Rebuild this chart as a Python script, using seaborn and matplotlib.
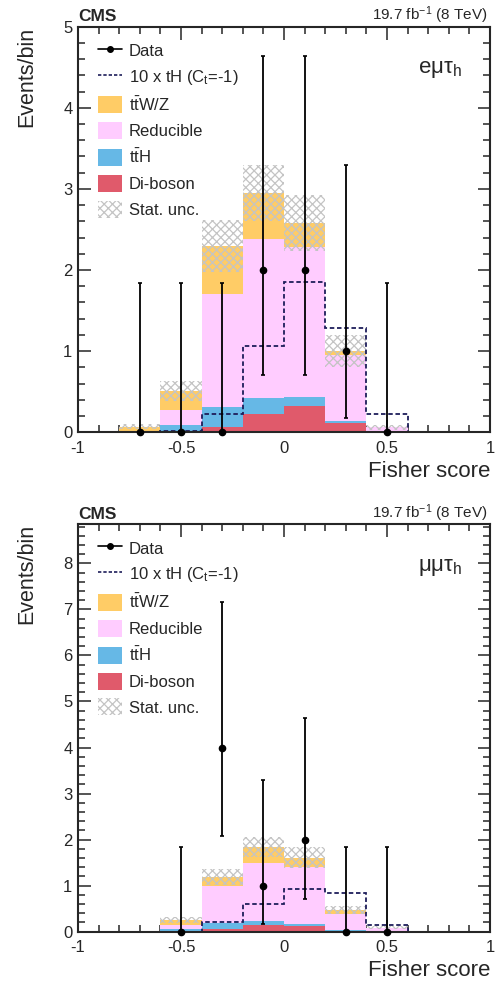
import numpy as np
import pandas as pd
import matplotlib
import matplotlib.pyplot as plt
import seaborn as sns
from matplotlib.lines import Line2D
from matplotlib.patches import Patch
from matplotlib.ticker import MultipleLocator, FormatStrFormatter

matplotlib.use('agg')

# binning of the Fisher discriminant
bin_edges = [-1.0, -0.8, -0.6, -0.4, -0.2, 0.0, 0.2, 0.4, 0.6, 0.8, 1.0]
bin_centers = [-0.9, -0.7, -0.5, -0.3, -0.1, 0.1, 0.3, 0.5, 0.7, 0.9]

processes = ['ttWZ', 'Reducible', 'ttH', 'Diboson']
proc_colors = ['#FFCC66', '#FFCCFF', '#66B8E6', '#E05A6B']

# e mu tau_h channel
emt_ttwz = [0.0, 0.07, 0.23, 0.60, 0.57, 0.29, 0.05, 0.0, 0.0, 0.0]
emt_reducible = [0.0, 0.0, 0.19, 1.39, 1.96, 1.86, 0.815, 0.06, 0.0, 0.0]
emt_tth = [0.0, 0.0, 0.09, 0.25, 0.19, 0.11, 0.015, 0.0, 0.0, 0.0]
emt_diboson = [0.0, 0.0, 0.0, 0.06, 0.23, 0.32, 0.12, 0.0, 0.0, 0.0]
emt_stat = [0.0, 0.03, 0.12, 0.32, 0.35, 0.35, 0.20, 0.03, 0.0, 0.0]
emt_th10 = [0.0, 0.0, 0.02, 0.22, 1.06, 1.85, 1.29, 0.22, 0.0, 0.0]
emt_data_x = [-0.7, -0.5, -0.3, -0.1, 0.1, 0.3, 0.5]
emt_data_y = [0, 0, 0, 2, 2, 1, 0]
emt_data_lo = [0.0, 0.0, 0.0, 1.29, 1.29, 0.83, 0.0]
emt_data_hi = [1.84, 1.84, 1.84, 2.64, 2.64, 2.30, 1.84]

# mu mu tau_h channel
mmt_ttwz = [0.0, 0.0, 0.105, 0.19, 0.35, 0.20, 0.095, 0.0, 0.0, 0.0]
mmt_reducible = [0.0, 0.0, 0.08, 0.82, 1.25, 1.24, 0.34, 0.085, 0.0, 0.0]
mmt_tth = [0.0, 0.0, 0.065, 0.12, 0.095, 0.05, 0.035, 0.0, 0.0, 0.0]
mmt_diboson = [0.0, 0.0, 0.0, 0.06, 0.145, 0.12, 0.0, 0.0, 0.0, 0.0]
mmt_stat = [0.0, 0.0, 0.06, 0.18, 0.22, 0.22, 0.08, 0.03, 0.0, 0.0]
mmt_th10 = [0.0, 0.0, 0.0, 0.20, 0.61, 0.93, 0.83, 0.14, 0.0, 0.0]
mmt_data_x = [-0.5, -0.3, -0.1, 0.1, 0.3, 0.5]
mmt_data_y = [0, 4, 1, 2, 0, 0]
mmt_data_lo = [0.0, 1.92, 0.83, 1.29, 0.0, 0.0]
mmt_data_hi = [1.84, 3.16, 2.30, 2.64, 1.84, 1.84]

sns.set_style('ticks')
plt.rcParams['font.family'] = ['Liberation Sans', 'DejaVu Sans']
plt.rcParams['mathtext.fontset'] = 'custom'
plt.rcParams['mathtext.rm'] = 'Liberation Sans'
plt.rcParams['mathtext.it'] = 'Liberation Sans:italic'
plt.rcParams['mathtext.bf'] = 'Liberation Sans:bold'
plt.rcParams['axes.unicode_minus'] = False
plt.rcParams['hatch.linewidth'] = 0.9

TH_COLOR = '#1E1E5A'
UNC_COLOR = '#C4C4C4'
HATCH = 'xxxx'


def draw_panel(ax, ttwz, reducible, tth, diboson, stat, th10,
               dx, dy, dlo, dhi, channel, ymax, leg_top):
    df = pd.DataFrame({
        'score': bin_centers * 4,
        'weight': list(ttwz) + list(reducible) + list(tth) + list(diboson),
        'process': sum([[p] * len(bin_centers) for p in processes], []),
    })
    # first hue level ends up on top of the stack
    sns.histplot(data=df, x='score', weights='weight', hue='process',
                 hue_order=processes, palette=proc_colors, multiple='stack',
                 bins=bin_edges, element='bars', alpha=1, linewidth=0,
                 legend=False, ax=ax)

    total = np.array(ttwz) + np.array(reducible) + np.array(tth) + np.array(diboson)
    stat = np.array(stat)
    ax.bar(bin_centers, 2 * stat, bottom=total - stat, width=0.2,
           facecolor='none', edgecolor=UNC_COLOR, hatch=HATCH, linewidth=0)

    ax.stairs(th10, bin_edges, color=TH_COLOR, linewidth=1.3,
              linestyle=(0, (2.5, 1.5)), baseline=0)

    ax.errorbar(dx, dy, yerr=[dlo, dhi], fmt='o', color='black', ms=4.5,
                elinewidth=1.3, capsize=1.5, capthick=1.2, clip_on=False,
                zorder=10)

    ax.set_xlim(-1, 1)
    ax.set_ylim(0, ymax)
    ax.xaxis.set_major_locator(MultipleLocator(0.5))
    ax.xaxis.set_minor_locator(MultipleLocator(0.1))
    ax.yaxis.set_major_locator(MultipleLocator(1))
    ax.yaxis.set_minor_locator(MultipleLocator(0.2))
    ax.xaxis.set_major_formatter(FormatStrFormatter('%g'))
    ax.yaxis.set_major_formatter(FormatStrFormatter('%g'))
    ax.tick_params(which='both', direction='in', top=True, right=True,
                   labelsize=12, width=1.1)
    ax.tick_params(which='major', length=9)
    ax.tick_params(which='minor', length=5)
    ax.tick_params(axis='x', which='major', pad=6)
    ax.tick_params(axis='y', which='major', pad=4)
    for s in ax.spines.values():
        s.set_linewidth(1.5)
        s.set_visible(True)

    ax.set_xlabel('Fisher score', fontsize=16, loc='right')
    ax.xaxis.set_label_coords(1.0, -0.07)
    ax.set_ylabel('Events/bin', fontsize=15.5, loc='top')
    ax.yaxis.set_label_coords(-0.1, 1.0)

    ax.text(0.0, 1.014, 'CMS', transform=ax.transAxes, fontsize=12.5,
            fontweight='bold', va='baseline', ha='left')
    ax.text(0.995, 1.016, r'19.7 fb$^{-1}$ (8 TeV)', transform=ax.transAxes,
            fontsize=11, va='baseline', ha='right')
    ax.text(0.932, 0.885, channel, transform=ax.transAxes, fontsize=16,
            va='baseline', ha='right')

    handles = [
        Line2D([0], [0], color='black', marker='o', ms=4, lw=1.2),
        Line2D([0], [0], color=TH_COLOR, lw=1.2, linestyle=(0, (2, 1.2))),
        Patch(facecolor=proc_colors[0], edgecolor='none'),
        Patch(facecolor=proc_colors[1], edgecolor='none'),
        Patch(facecolor=proc_colors[2], edgecolor='none'),
        Patch(facecolor=proc_colors[3], edgecolor='none'),
        Patch(facecolor='none', edgecolor=UNC_COLOR, hatch=HATCH, linewidth=0),
    ]
    labels = ['Data', r'10 x tH (C$_\mathrm{t}$=-1)',
              r't$\mathrm{\bar{t}}$W/Z', 'Reducible',
              r't$\mathrm{\bar{t}}$H', 'Di-boson', 'Stat. unc.']
    ax.legend(handles, labels, loc='upper left',
              bbox_to_anchor=(0.048, leg_top), frameon=False, fontsize=12,
              handlelength=1.45, handleheight=1.2, handletextpad=0.4,
              labelspacing=0.52, borderpad=0, borderaxespad=0)


fig = plt.figure(figsize=(5, 9.84), dpi=100)
ax1 = fig.add_axes([0.156, 0.5607, 0.824, 0.4122])
ax2 = fig.add_axes([0.156, 0.0532, 0.824, 0.414])

draw_panel(ax1, emt_ttwz, emt_reducible, emt_tth, emt_diboson, emt_stat,
           emt_th10, emt_data_x, emt_data_y, emt_data_lo, emt_data_hi,
           r'e$\mathrm{\mu\tau}_\mathrm{h}$', 5, 0.963)
draw_panel(ax2, mmt_ttwz, mmt_reducible, mmt_tth, mmt_diboson, mmt_stat,
           mmt_th10, mmt_data_x, mmt_data_y, mmt_data_lo, mmt_data_hi,
           r'$\mathrm{\mu\mu\tau}_\mathrm{h}$', 8.85, 0.963)

fig.savefig('out.png', dpi=100)
